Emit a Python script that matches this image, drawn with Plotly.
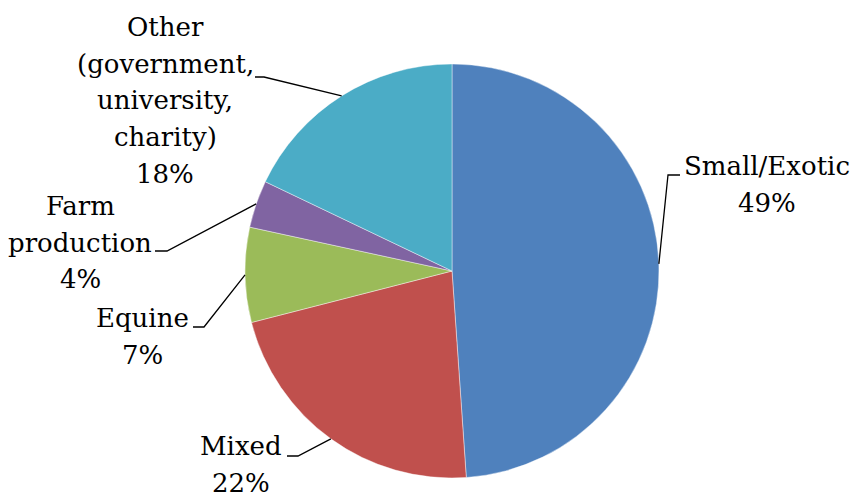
import math
import plotly.graph_objects as go

categories = ["Small/Exotic", "Mixed", "Equine", "Farm production", "Other (government, university, charity)"]
label_lines = [["Small/Exotic"], ["Mixed"], ["Equine"], ["Farm", "production"],
               ["Other", "(government,", "university,", "charity)"]]
values = [48.9, 22.1, 7.4, 3.7, 17.9]
colors = ["#4F81BD", "#C0504D", "#9BBB59", "#8064A2", "#4BACC6"]

W, H = 852, 493
CX, CY, R = 452, 271, 207
FS = 26
LINE = 36.7
FONT = "DejaVu Serif"

label_pos = [(767, 175), (241, 455), (142, 327), (80, 215), (165, 36)]
stubs = [((680, 175), (668, 175)), ((287, 456), (298, 456)), ((193, 327), (204, 327)),
         ((155, 251), (167, 251)), ((255, 77), (264, 77))]

fig = go.Figure()
fig.add_trace(go.Pie(
    labels=categories, values=values, sort=False, direction="clockwise", rotation=0,
    marker=dict(colors=colors, line=dict(color="rgba(255,255,255,0.6)", width=0.7)),
    textinfo="none", hoverinfo="label+percent", showlegend=False,
    domain=dict(x=[(CX - R) / W, (CX + R) / W], y=[(H - CY - R) / H, (H - CY + R) / H]),
))

def px(x, y):
    return x / W, 1 - y / H

total = sum(values)
cum = 0
annotations = []
shapes = []
for i, v in enumerate(values):
    mid = 2 * math.pi * (cum + v / 2) / total
    cum += v
    ex, ey = CX + R * math.sin(mid), CY - R * math.cos(mid)
    (s0, s1) = stubs[i]
    p = [px(*s0), px(*s1), px(ex, ey)]
    path = "M {} {} L {} {} L {} {}".format(p[0][0], p[0][1], p[1][0], p[1][1], p[2][0], p[2][1])
    shapes.append(dict(type="path", xref="paper", yref="paper", path=path,
                       line=dict(color="black", width=1.3)))
    pct = "{}%".format(round(v / total * 100))
    lines = label_lines[i] + [pct]
    lx, lb = label_pos[i]
    for j, t in enumerate(lines):
        base = lb + j * LINE
        yc = base - 0.346 * FS
        ax_, ay_ = px(lx, yc)
        annotations.append(dict(text=t, x=ax_, y=ay_, xref="paper", yref="paper",
                                xanchor="center", yanchor="middle", showarrow=False,
                                font=dict(family=FONT, size=FS, color="black")))

fig.update_layout(width=W, height=H, margin=dict(l=0, r=0, t=0, b=0),
                  paper_bgcolor="white", plot_bgcolor="white",
                  annotations=annotations, shapes=shapes)
fig.write_html("out.html")
